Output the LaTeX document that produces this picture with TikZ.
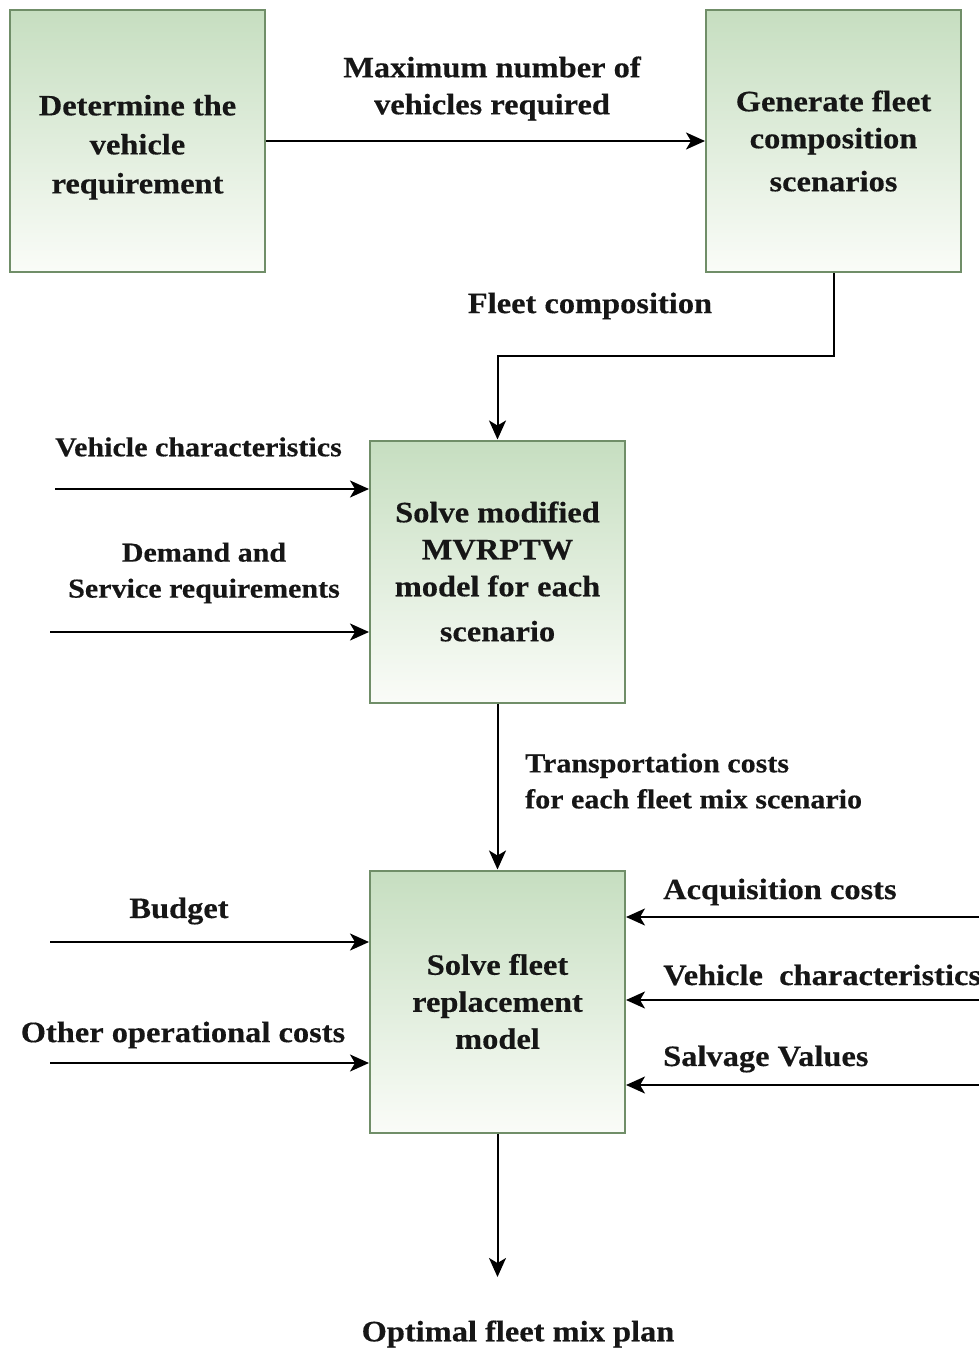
\documentclass[tikz,border=0pt]{standalone}
\usepackage{fontspec}
\newfontfamily\lblfont{Liberation Serif}[FakeStretch=1.1,FakeBold=0.4]
\usetikzlibrary{arrows.meta,calc}
\definecolor{boxtop}{RGB}{198,222,192}
\definecolor{boxbot}{RGB}{250,252,248}
\definecolor{boxline}{RGB}{112,142,104}
\definecolor{ink}{RGB}{22,22,22}
\tikzset{
  procbox/.style={draw=boxline, line width=2pt, top color=boxtop, bottom color=boxbot,
    minimum width=255pt, minimum height=262pt, inner sep=0pt, align=center, text=ink,
    font=\lblfont\bfseries\fontsize{29.5}{37}\selectfont},
  biglbl/.style={inner sep=0pt, text=ink, align=center, font=\lblfont\bfseries\fontsize{29.5}{37}\selectfont},
  smalllbl/.style={inner sep=0pt, text=ink, align=center, font=\lblfont\bfseries\fontsize{27.3}{36}\selectfont},
  flow/.style={draw=black, line width=2pt, -{Stealth[length=19pt,width=17pt,inset=5pt]}}
}
\begin{document}
\begin{tikzpicture}[x=1pt,y=-1pt]
\useasboundingbox (0,0) rectangle (979,1349);
% boxes
\node[procbox, font=\lblfont\bfseries\fontsize{29.5}{39}\selectfont] (b1) at (137.5,141) {\\[-6pt]Determine the\\vehicle\\requirement};
\node[procbox] (b2) at (833.5,141) {Generate fleet\\composition\\[6pt]scenarios};
\node[procbox] (b3) at (497.5,571.5) {Solve modified\\MVRPTW\\model for each\\[8pt]scenario};
\node[procbox] (b4) at (497.5,1001.5) {Solve fleet\\replacement\\model};
% coordinates
\coordinate (fc) at (497.5,356);
\coordinate (in1) at (55,489);
\coordinate (in2) at (50,632);
\coordinate (in3) at (50,942);
\coordinate (in4) at (50,1063);
\coordinate (r1) at (979,917);
\coordinate (r2) at (979,1000);
\coordinate (r3) at (979,1085);
\coordinate (out) at (497.5,1277);
% connectors
\draw[flow] (b1.east) -- (b2.west);
\draw[flow] (b2.south) |- (fc) -- (b3.north);
\draw[flow] (in1) -- (in1 -| b3.west);
\draw[flow] (in2) -- (in2 -| b3.west);
\draw[flow] (b3.south) -- (b4.north);
\draw[flow] (in3) -- (in3 -| b4.west);
\draw[flow] (in4) -- (in4 -| b4.west);
\draw[flow] (r1) -- (r1 -| b4.east);
\draw[flow] (r2) -- (r2 -| b4.east);
\draw[flow] (r3) -- (r3 -| b4.east);
\draw[flow] (b4.south) -- (out);
% labels
\node[biglbl] (l1) at (492,88.5) {Maximum number of\\vehicles required};
\node[biglbl] (l2) at (590,306) {Fleet composition};
\node[smalllbl, anchor=west] (l3) at (55,447) {Vehicle characteristics};
\node[smalllbl] (l4) at (204,573) {Demand and\\Service requirements};
\node[smalllbl, anchor=west, align=left] (l5) at (525,781) {Transportation costs\\for each fleet mix scenario};
\node[biglbl] (l6) at (179,911) {Budget};
\node[biglbl] (l7) at (183,1035) {Other operational costs};
\node[biglbl, anchor=west] (l8) at (663,892) {Acquisition costs};
\node[biglbl, anchor=west] (l9) at (663,975) {Vehicle\ \ characteristics};
\node[biglbl, anchor=west] (l10) at (663,1059) {Salvage Values};
\node[biglbl] (l11) at (518,1334) {Optimal fleet mix plan};
\end{tikzpicture}
\end{document}
